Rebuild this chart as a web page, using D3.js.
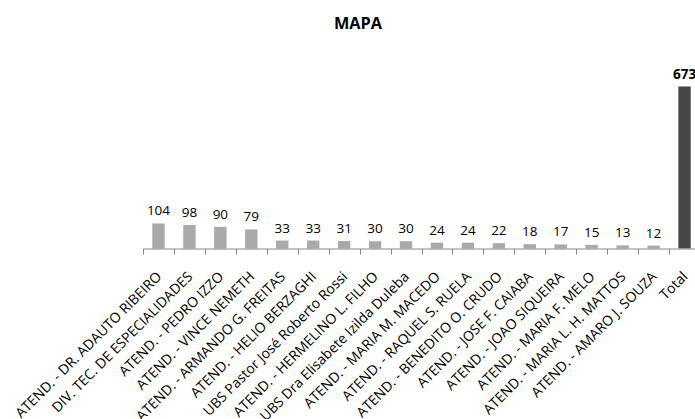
<!DOCTYPE html>
<html>
<head>
<meta charset="utf-8">
<script src="https://cdn.jsdelivr.net/npm/d3@7"></script>
<style>
  html, body { margin: 0; padding: 0; background: #fff; }
  svg { display: block; }
  text { font-family: "Open Sans", "DejaVu Sans", sans-serif; fill: #000; }
</style>
</head>
<body>
<div id="chart"></div>
<script>
const categories = [
  "ATEND. - DR. ADAUTO RIBEIRO",
  "DIV. TEC. DE ESPECIALIDADES",
  "ATEND. - PEDRO IZZO",
  "ATEND. - VINCE NEMETH",
  "ATEND. - ARMANDO G. FREITAS",
  "ATEND. - HELIO BERZAGHI",
  "UBS Pastor José Roberto Rossi",
  "ATEND. - HERMELINO L. FILHO",
  "UBS Dra Elisabete Izilda Duleba",
  "ATEND. - MARIA M. MACEDO",
  "ATEND. - RAQUEL S. RUELA",
  "ATEND. - BENEDITO O. CRUDO",
  "ATEND. - JOSE F. CAIABA",
  "ATEND. - JOAO SIQUEIRA",
  "ATEND. - MARIA F. MELO",
  "ATEND. - MARIA L. H. MATTOS",
  "ATEND. - AMARO J. SOUZA",
  "Total"
];
const values = [104, 98, 90, 79, 33, 33, 31, 30, 30, 24, 24, 22, 18, 17, 15, 13, 12, 673];
const title = "MAPA";

const width = 695, height = 419;
const baseY = 248.5;

const svg = d3.select("#chart").append("svg")
    .attr("width", width)
    .attr("height", height);

const x = d3.scaleBand()
    .domain(categories)
    .range([143, 700])
    .padding(0);

const y = d3.scaleLinear()
    .domain([0, 673])
    .range([baseY, 86.5]);

const bw = x.bandwidth() * 0.4;

svg.append("text")
    .attr("x", 358)
    .attr("y", 29)
    .attr("text-anchor", "middle")
    .style("font-weight", "bold")
    .style("font-size", "16.3px")
    .text(title);

// bars
svg.append("g")
  .selectAll("rect")
  .data(values)
  .enter().append("rect")
    .attr("x", (d, i) => x(categories[i]) + (x.bandwidth() - bw) / 2)
    .attr("y", d => y(d))
    .attr("width", bw)
    .attr("height", d => baseY - y(d))
    .attr("fill", (d, i) => categories[i] === "Total" ? "#464646" : "#a9a9a9");

// value labels
svg.append("g")
  .selectAll("text")
  .data(values)
  .enter().append("text")
    .attr("x", (d, i) => x(categories[i]) + x.bandwidth() / 2)
    .attr("y", d => y(d) - 8)
    .attr("text-anchor", "middle")
    .style("font-size", "13.5px")
    .style("font-weight", (d, i) => categories[i] === "Total" ? "bold" : "normal")
    .text(d => d);

// axis line + ticks between categories
const axis = svg.append("g").attr("stroke", "#878787").attr("stroke-width", 1);
axis.append("line")
    .attr("x1", 143).attr("x2", 700)
    .attr("y1", baseY + 0.5).attr("y2", baseY + 0.5);
axis.selectAll(".tick")
  .data(categories.concat([null]))
  .enter().append("line")
    .attr("x1", d => Math.round(d ? x(d) : x.range()[1]) + 0.5)
    .attr("x2", d => Math.round(d ? x(d) : x.range()[1]) + 0.5)
    .attr("y1", baseY + 0.5)
    .attr("y2", baseY + 6);

// category labels
svg.append("g")
  .selectAll("text")
  .data(categories)
  .enter().append("text")
    .attr("transform", d => `translate(${x(d) + x.bandwidth() / 2 + 4},${baseY + 29}) rotate(-45)`)
    .attr("text-anchor", "end")
    .style("font-size", "14px")
    .text(d => d);
</script>
</body>
</html>
